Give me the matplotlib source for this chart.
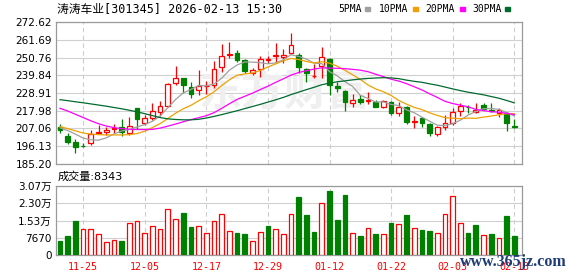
import numpy as np
import pandas as pd
import matplotlib
matplotlib.use('Agg')
import matplotlib.pyplot as plt
from matplotlib.patches import Rectangle

plt.rcParams['font.family'] = ['DejaVu Sans', 'Noto Sans CJK SC']

# daily K-line data (60 trading days)
opens = [208.2, 202.4, 199.0, 196.4, 197.9, 204.1, 204.7, 206.6, 207.8, 204.5,
         219.5, 210.7, 213.3, 217.4, 220.9, 234.9, 237.9, 232.8, 230.8, 233.0,
         233.8, 244.7, 252.5, 253.3, 249.2, 241.4, 243.5, 249.4, 251.5, 250.9,
         253.7, 252.3, 243.5, 239.2, 245.5, 249.6, 233.2, 230.1, 222.6, 225.2,
         224.0, 223.6, 220.1, 223.6, 216.8, 220.5, 211.3, 213.3, 209.8, 203.5,
         207.8, 210.7, 218.0, 220.5, 217.4, 221.5, 218.2, 216.4, 216.8, 208.6]
highs = [209.8, 204.1, 200.4, 197.9, 206.1, 209.2, 208.2, 209.8, 212.7, 213.9,
         219.5, 215.4, 223.0, 224.0, 235.3, 245.5, 238.4, 235.9, 243.1, 236.3,
         248.6, 259.1, 260.5, 255.4, 249.6, 244.1, 251.7, 251.7, 259.5, 255.8,
         265.6, 253.3, 244.1, 246.8, 257.4, 250.3, 235.9, 230.8, 228.3, 227.7,
         229.7, 224.6, 224.6, 224.2, 223.6, 220.9, 214.8, 213.9, 210.2, 208.6,
         215.4, 219.5, 222.5, 221.5, 222.5, 222.5, 223.0, 219.5, 217.4, 212.7]
lows = [204.1, 197.5, 192.2, 195.5, 196.9, 204.1, 203.1, 204.1, 202.4, 203.1,
        206.6, 209.2, 212.3, 214.8, 220.5, 233.8, 228.7, 225.6, 227.7, 228.3,
        231.8, 242.0, 250.3, 248.2, 241.0, 240.0, 239.0, 247.2, 247.2, 247.2,
        252.9, 241.0, 235.9, 238.0, 238.0, 227.7, 229.7, 218.0, 220.5, 222.1,
        222.1, 220.1, 219.5, 215.4, 214.8, 209.8, 207.2, 207.8, 202.4, 202.4,
        206.1, 209.2, 214.8, 216.8, 216.4, 218.3, 217.4, 214.3, 205.7, 207.2]
closes = [206.1, 199.0, 195.5, 196.2, 203.7, 204.9, 206.1, 207.6, 205.1, 208.6,
          212.7, 213.3, 217.8, 220.9, 234.5, 237.9, 233.8, 228.3, 233.2, 233.4,
          243.5, 251.7, 253.0, 249.2, 242.7, 243.1, 249.8, 249.6, 252.0, 252.3,
          258.5, 244.7, 241.4, 239.6, 250.9, 233.8, 231.8, 223.6, 224.6, 223.6,
          224.4, 220.5, 224.0, 216.8, 220.1, 211.3, 211.7, 210.2, 204.5, 207.8,
          210.2, 217.4, 221.0, 220.3, 218.6, 218.9, 218.0, 218.4, 210.6, 208.0]
volumes = [6210, 8420, 15080, 11400, 11400, 9310, 5760, 6520, 6210, 14190,
           15080, 9750, 12860, 11530, 20400, 15960, 18620, 12420, 12860, 9750,
           15080, 18180, 10640, 9750, 9310, 6210, 10200, 12860, 11530, 9310,
           18180, 25720, 17740, 10200, 23060, 28380, 15520, 26600, 9750, 8420,
           11970, 9310, 9310, 14190, 13750, 17740, 11970, 11090, 10640, 9750,
           18180, 26160, 14190, 9750, 13300, 8870, 9310, 7540, 17290, 8343]

# MA values before the window is full
ma5_head = [207.5, 205.8, 203.6, 201.2]
ma10_head = [208.2, 207.0, 205.6, 204.3, 203.6, 203.3, 203.1, 203.1, 203.1]
ma20_head = [219.5, 217.8, 215.8, 213.8, 211.8, 210.0, 208.6, 207.6, 207.0, 206.6,
             206.4, 206.4, 206.5, 207.3, 208.5, 209.8, 211.2, 212.5, 213.7]
ma30_head = [224.8, 224.2, 223.5, 222.9, 222.2, 221.5, 220.8, 220.0, 219.2, 218.3,
             217.3, 216.2, 215.0, 213.8, 213.0, 212.6, 212.4, 212.4, 212.7, 213.5,
             214.5, 215.6, 216.8, 218.0, 219.3, 220.6, 221.9, 223.3, 224.7]

date_pos = [3, 11, 19, 27, 35, 43, 51, 59]
date_labels = ['11-25', '12-05', '12-17', '12-29', '01-12', '01-22', '02-03', '02-13']
price_ticks = [185.20, 196.13, 207.06, 217.98, 228.91, 239.84, 250.76, 261.69, 272.62]
vol_ticks = [0, 7670, 15340, 23010, 30680]
vol_labels = ['0', '7670', '1.53万', '2.30万', '3.07万']

ma_names = ['5PMA', '10PMA', '20PMA', '30PMA']
ma_colors = ['#a0a0a0', '#f0a000', '#ff00ff', '#006b2e']

RED = '#ff0000'
GREEN = '#008000'
W, H = 578, 276

o = np.array(opens); c = np.array(closes)
h = np.array(highs); l = np.array(lows)
x = np.arange(len(c))

s = pd.Series(closes)
mas = []
for n, head in zip([5, 10, 20, 30], [ma5_head, ma10_head, ma20_head, ma30_head]):
    m = s.rolling(n).mean().to_numpy()
    m[:n - 1] = head
    mas.append(m)

fig = plt.figure(figsize=(W / 100, H / 100), dpi=100)

def fx(px):
    return px / W

def fy(py):
    return 1 - py / H

ax = fig.add_axes([fx(56), fy(164), fx(466), 142 / H])
axv = fig.add_axes([fx(56), fy(255), fx(466), 69 / H])

for a in (ax, axv):
    a.set_xlim(-0.52, 60.0)
    for sp in a.spines.values():
        sp.set_color('#9a9a9a')
        sp.set_linewidth(0.9)
    for p in date_pos:
        a.axvline(p, color='#cccccc', lw=0.8, ls=(0, (4, 3)), zorder=0)
    a.set_xticks(date_pos)
    a.tick_params(length=0, labelsize=7.5)

# price panel
ax.set_ylim(price_ticks[0], price_ticks[-1])
ax.set_yticks(price_ticks)
ax.set_yticklabels([f'{v:.2f}' for v in price_ticks])
ax.tick_params(axis='y', pad=3)
ax.set_xticklabels([])
for v in price_ticks:
    ax.axhline(v, color='#d0d0d0', lw=0.8, zorder=0)

# faint watermark, kept under the candles
ax.text(0.491, 0.507, '东方财富', transform=ax.transAxes, fontsize=31,
        color='#efefef', ha='center', va='center', style='italic',
        fontweight='bold', family=['Noto Sans CJK SC'], zorder=1)

up = c >= o
cols = np.where(up, RED, GREEN)
ax.vlines(x, l, h, colors=cols, lw=0.9, zorder=2)
body = np.maximum(np.abs(c - o), 0.05)
ax.bar(x, body, bottom=np.minimum(o, c), width=0.62,
       facecolor=np.where(up, 'white', GREEN), edgecolor=cols, lw=0.9, zorder=3)

for m, col in zip(mas, ma_colors):
    ax.plot(x, m, color=col, lw=0.9, zorder=4)

# volume panel
vol_up = np.r_[c[0] >= o[0], c[1:] >= c[:-1]]
vcols = np.where(vol_up, RED, GREEN)
axv.set_ylim(0, vol_ticks[-1])
axv.set_yticks(vol_ticks)
axv.set_yticklabels(vol_labels)
axv.tick_params(axis='y', pad=3)
for v in vol_ticks:
    axv.axhline(v, color='#d0d0d0', lw=0.8, zorder=0)
axv.bar(x, volumes, width=0.62, facecolor=np.where(vol_up, 'white', GREEN),
        edgecolor=vcols, lw=0.9, zorder=3)
axv.set_xticklabels(date_labels, family='DejaVu Sans Mono', fontsize=7.2)
axv.tick_params(axis='x', labelcolor=RED, pad=5)

# header texts
fig.text(fx(57), fy(9), '涛涛车业[301345] 2026-02-13 15:30', fontsize=8.5,
         family=['DejaVu Sans Mono', 'Noto Sans CJK SC'], va='center', ha='left')
lab_x = [338, 379, 425, 472]
box_x = [365, 413, 460, 505]
for name, col, lx, bx in zip(ma_names, ma_colors, lab_x, box_x):
    fig.text(fx(lx), fy(9), name, fontsize=7, family='DejaVu Sans Mono',
             va='center', ha='left')
    fig.add_artist(Rectangle((fx(bx), fy(11)), fx(5), 4 / H, color=col,
                             transform=fig.transFigure))

fig.text(fx(58), fy(177), f'成交量:{volumes[-1]}', fontsize=8, va='center', ha='left')

fig.text(fx(513), fy(262), 'www.365jz.com', fontsize=11.5, color='#1e3c78',
         family='Liberation Serif', fontweight='bold', ha='center', va='center')

fig.savefig('out.png', dpi=100)
